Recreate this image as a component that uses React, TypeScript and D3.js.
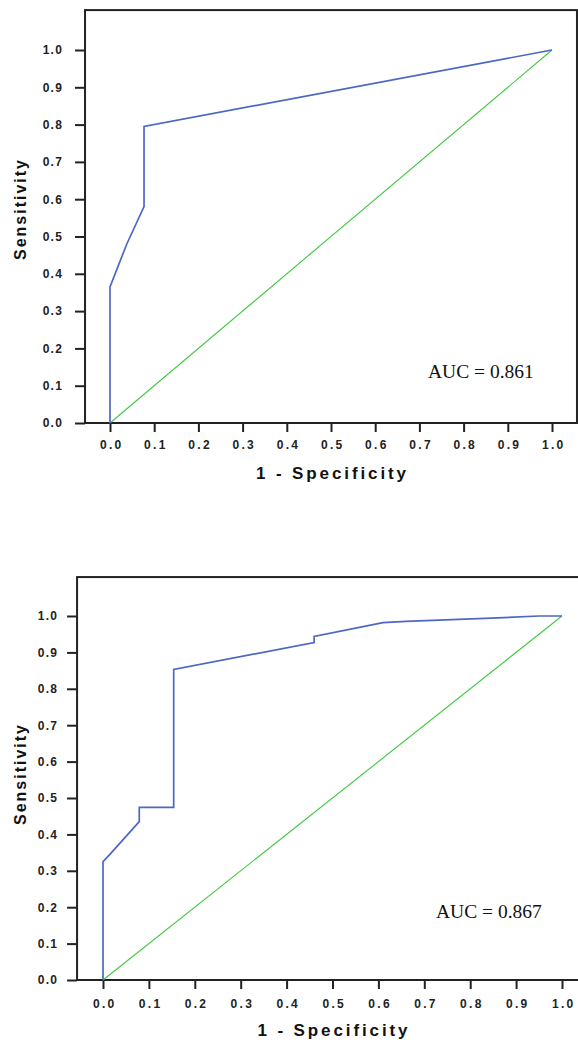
import React, { useEffect, useRef } from "react";
import * as d3 from "d3";

// ROC curve points (1 - specificity, sensitivity)
const topFpr = [0, 0, 0.038, 0.077, 0.077, 1];
const topTpr = [0, 0.365, 0.48, 0.58, 0.795, 1];
const topAuc = "AUC = 0.861";

const botFpr = [0, 0, 0.015, 0.079, 0.079, 0.154, 0.154, 0.46, 0.46, 0.61, 0.66, 0.76, 0.86, 0.95, 1];
const botTpr = [0, 0.325, 0.345, 0.435, 0.474, 0.474, 0.853, 0.927, 0.944, 0.982, 0.985, 0.99, 0.995, 1, 1];
const botAuc = "AUC = 0.867";

const refLine = [0, 1];
const tickValues = [0, 0.1, 0.2, 0.3, 0.4, 0.5, 0.6, 0.7, 0.8, 0.9, 1.0];
const xTitle = "1 - Specificity";
const yTitle = "Sensitivity";

const FONT = "'Liberation Sans', Arial, sans-serif";

function drawPanel(svg, cfg) {
  const { fpr, tpr, auc, xr, yr, aucX, aucY, yTitleY, xLabelPad, yLabelPad } = cfg;
  const x = d3.scaleLinear().domain([0, 1]).range(xr);
  const y = d3.scaleLinear().domain([0, 1]).range(yr);
  const step = x(0.1) - x(0);
  const left = x(0) - step * 0.565;
  const right = x(1) + step * 0.565;
  const top = y(1.107);
  const bottom = y(0);

  const g = svg.append("g");

  // frame
  g.append("rect")
    .attr("x", left)
    .attr("y", top)
    .attr("width", right - left)
    .attr("height", bottom - top)
    .attr("fill", "none")
    .attr("stroke", "#222")
    .attr("stroke-width", 2);

  const xAxis = g.append("g")
    .attr("transform", `translate(0,${bottom})`)
    .call(d3.axisBottom(x).tickValues(tickValues).tickFormat(d3.format(".1f")).tickSize(9).tickPadding(xLabelPad));
  const yAxis = g.append("g")
    .attr("transform", `translate(${left},0)`)
    .call(d3.axisLeft(y).tickValues(tickValues).tickFormat(d3.format(".1f")).tickSize(10).tickPadding(yLabelPad));

  [xAxis, yAxis].forEach(a => {
    a.select(".domain").remove();
    a.selectAll("line").attr("stroke", "#222").attr("stroke-width", 2);
    a.selectAll("text")
      .attr("fill", "#222")
      .style("font-family", FONT)
      .style("font-size", "12px")
      .style("font-weight", "bold");
  });
  xAxis.selectAll("text").style("letter-spacing", "2.3px").attr("dx", "1.2px");
  yAxis.selectAll("text").style("letter-spacing", "1.2px");

  const line = d3.line().x(d => x(d[0])).y(d => y(d[1]));

  // chance diagonal
  g.append("path")
    .datum(refLine.map(v => [v, v]))
    .attr("d", line)
    .attr("fill", "none")
    .attr("stroke", "#3fc83f")
    .attr("stroke-width", 1.1);

  g.append("path")
    .datum(fpr.map((f, i) => [f, tpr[i]]))
    .attr("d", line)
    .attr("fill", "none")
    .attr("stroke", "#4d67c4")
    .attr("stroke-width", 1.7);

  g.append("text")
    .attr("x", aucX)
    .attr("y", aucY)
    .attr("fill", "#111")
    .style("font-family", "'Liberation Serif', 'Times New Roman', serif")
    .style("font-size", "19.5px")
    .text(auc);

  g.append("text")
    .attr("x", (x(0) + x(1)) / 2)
    .attr("y", bottom + 56)
    .attr("text-anchor", "middle")
    .attr("textLength", 150)
    .attr("fill", "#111")
    .style("font-family", FONT)
    .style("font-size", "17px")
    .style("font-weight", "bold")
    .text(xTitle);

  g.append("text")
    .attr("transform", `translate(20,${yTitleY}) rotate(-90)`)
    .attr("dy", "0.35em")
    .attr("text-anchor", "middle")
    .attr("textLength", 100)
    .attr("fill", "#111")
    .style("font-family", FONT)
    .style("font-size", "16px")
    .style("font-weight", "bold")
    .text(yTitle);
}

export default function App() {
  const ref = useRef(null);

  useEffect(() => {
    const svg = d3.select(ref.current);
    svg.selectAll("*").remove();
    drawPanel(svg, {
      fpr: topFpr, tpr: topTpr, auc: topAuc,
      xr: [110, 552], yr: [423, 50],
      aucX: 428, aucY: 378, yTitleY: 210,
      xLabelPad: 8, yLabelPad: 12
    });
    drawPanel(svg, {
      fpr: botFpr, tpr: botTpr, auc: botAuc,
      xr: [103, 562], yr: [980, 616],
      aucX: 436, aucY: 918, yTitleY: 775,
      xLabelPad: 10, yLabelPad: 9
    });
  }, []);

  return (
    <svg
      ref={ref}
      width={578}
      height={1042}
      style={{ position: "absolute", left: 0, top: 0, background: "#fff" }}
    />
  );
}
